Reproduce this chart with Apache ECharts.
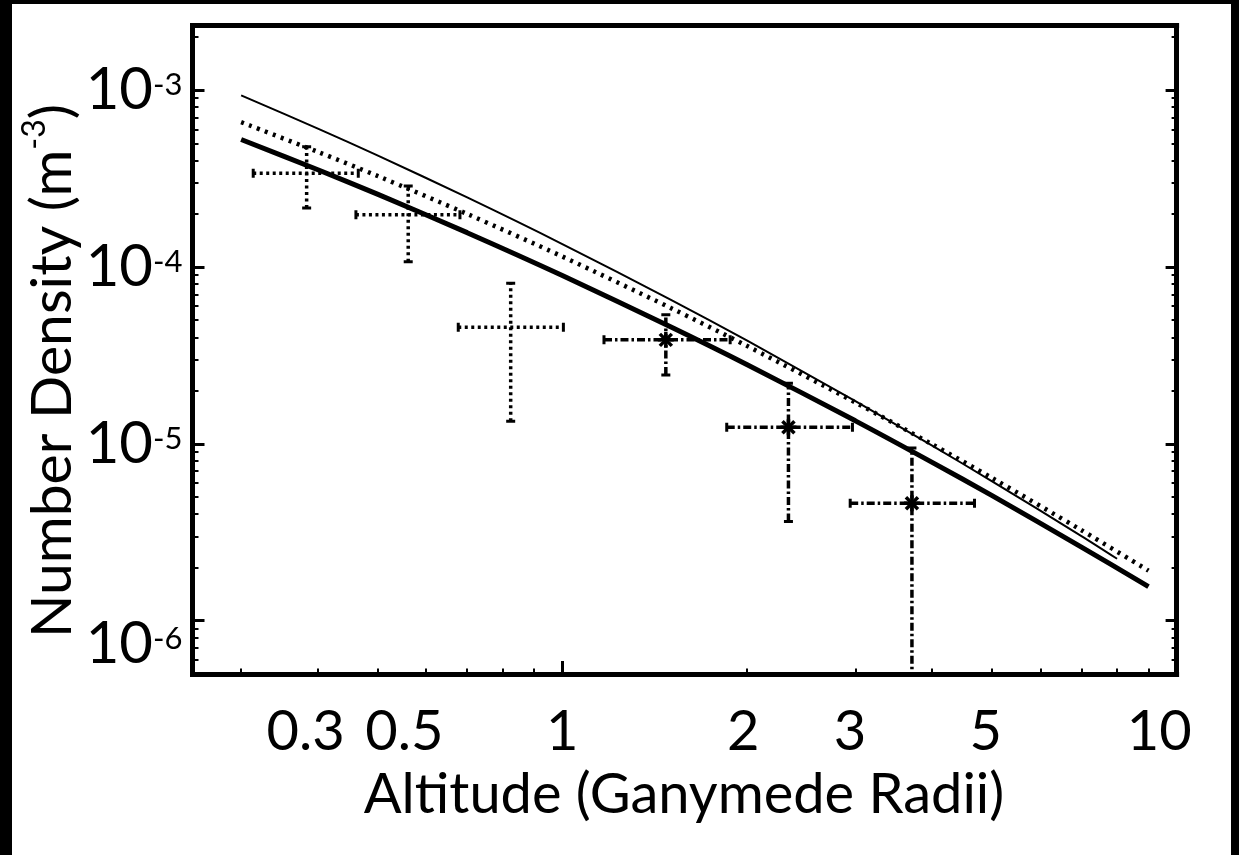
<!DOCTYPE html>
<html><head><meta charset="utf-8">
<script src="https://cdn.jsdelivr.net/npm/echarts@6/dist/echarts.min.js"></script>
<style>
html,body{margin:0;padding:0;background:#000;width:1239px;height:855px;overflow:hidden}
#c{position:absolute;left:12px;top:4px;width:1219px;height:851px;background:#fff}
</style></head><body><div id="c"></div>
<script>
// ---- axis text ----
const xTickLabels = ['0.3', '0.5', '1', '2', '3', '5', '10'];
const xLabelAt = [0.382, 0.553, 1.0, 1.97, 2.94, 4.89, 9.37];
const yTickExp = ['-3', '-4', '-5', '-6'];
const yLabelAt = [1.0e-3, 1.0e-4, 1.0e-5, 7.4e-7];
const xTitle = 'Altitude (Ganymede Radii)';
const yTitle = 'Number Density (m';

// ---- model curves ----
const thinX = [0.3, 0.4, 0.5, 0.7, 1, 1.5, 2, 3, 4, 5, 7, 8];
const thinY = [9.32e-4, 6.05e-4, 4.27e-4, 2.47e-4, 1.347e-4, 6.54e-5, 3.83e-5, 1.742e-5, 9.77e-6, 6.16e-6, 3.01e-6, 2.24e-6];
const dottedX = [0.3, 0.4, 0.5, 0.7, 1, 1.5, 2, 3, 4, 5, 7, 9];
const dottedY = [6.58e-4, 4.47e-4, 3.27e-4, 1.993e-4, 1.145e-4, 5.87e-5, 3.57e-5, 1.713e-5, 9.94e-6, 6.43e-6, 3.25e-6, 1.92e-6];
const thickX = [0.3, 0.4, 0.5, 0.7, 1, 1.5, 2, 3, 4, 5, 7, 9];
const thickY = [5.25e-4, 3.545e-4, 2.578e-4, 1.562e-4, 8.95e-5, 4.59e-5, 2.80e-5, 1.349e-5, 7.86e-6, 5.11e-6, 2.61e-6, 1.56e-6];

// ---- measurements (dotted error bars) ----
const dotX = [0.3835, 0.5612, 0.824];
const dotXLo = [0.3139, 0.4613, 0.677];
const dotXHi = [0.4654, 0.6813, 1.004];
const dotY = [3.38e-4, 1.97e-4, 4.56e-5];
const dotYLo = [2.15e-4, 1.07e-4, 1.34e-5];
const dotYHi = [4.78e-4, 2.87e-4, 8.09e-5];

// ---- measurements (dash-dot error bars, asterisk markers) ----
const dashX = [1.474, 2.334, 3.708];
const dashXLo = [1.169, 1.852, 2.942];
const dashXHi = [1.876, 2.967, 4.688];
const dashY = [3.87e-5, 1.24e-5, 4.62e-6];
const dashYLo = [2.45e-5, 3.64e-6, 3.0e-7];
const dashYHi = [5.36e-5, 2.20e-5, 9.46e-6];

const FONT = 'Lato';
const L = Math.log10;
const X_MIN = 0.25, X_MAX = 10, Y_MIN = 5.0e-7, Y_MAX = 2.31e-3;

const minorX = [], minorY = [];
[-1, 0].forEach(d => { for (let m = 2; m <= 9; m++) { const v = m * Math.pow(10, d); if (v > X_MIN && v < X_MAX) minorX.push(L(v)); } });
[-7, -6, -5, -4, -3].forEach(d => { for (let m = 2; m <= 9; m++) { const v = m * Math.pow(10, d); if (v > Y_MIN * 1.01 && v < Y_MAX) minorY.push(L(v)); } });
const majorX = [0, 1];
const majorY = [-6, -5, -4, -3];

function nearestIdx(arr, v) {
  let bi = 0, bd = Infinity;
  arr.forEach((a, i) => { const d = Math.abs(L(a) - v); if (d < bd) { bd = d; bi = i; } });
  return bi;
}

const lineBlack = w => ({ color: '#000', width: w, cap: 'square' });
const baseX = { type: 'value', min: L(X_MIN), max: L(X_MAX), gridIndex: 0, splitLine: { show: false },
  axisLabel: { show: false }, axisTick: { show: false }, axisLine: { show: false, onZero: false } };
const baseY = { type: 'value', min: L(Y_MIN), max: L(Y_MAX), gridIndex: 0, splitLine: { show: false },
  axisLabel: { show: false }, axisTick: { show: false }, axisLine: { show: false, onZero: false } };

function curve(xs, ys, width, type) {
  return { type: 'line', xAxisIndex: 0, yAxisIndex: 0, symbol: 'none', smooth: 0.3,
    data: xs.map((x, i) => [L(x), L(ys[i])]),
    lineStyle: { color: '#000', width: width, type: type }, z: 3 };
}

function bars(xs, xlo, xhi, ys, ylo, yhi, dash, marker) {
  return {
    type: 'custom', xAxisIndex: 0, yAxisIndex: 0, clip: true, z: 4,
    data: xs.map((x, i) => [L(x), L(ys[i]), L(xlo[i]), L(xhi[i]), L(ylo[i]), L(yhi[i])]),
    encode: { x: [0, 2, 3], y: [1, 4, 5] },
    renderItem: function (params, api) {
      const c = api.coord([api.value(0), api.value(1)]);
      const l = api.coord([api.value(2), api.value(1)]);
      const r = api.coord([api.value(3), api.value(1)]);
      const b = api.coord([api.value(0), api.value(4)]);
      const t = api.coord([api.value(0), api.value(5)]);
      const st = { stroke: '#000', lineWidth: 3.5, lineDash: dash, fill: null };
      const cap = { stroke: '#000', lineWidth: 3, fill: null };
      const h = 4.5;
      const ch = [
        { type: 'line', shape: { x1: l[0], y1: l[1], x2: r[0], y2: r[1] }, style: st },
        { type: 'line', shape: { x1: b[0], y1: b[1], x2: t[0], y2: t[1] }, style: st },
        { type: 'line', shape: { x1: l[0], y1: l[1] - h, x2: l[0], y2: l[1] + h }, style: cap },
        { type: 'line', shape: { x1: r[0], y1: r[1] - h, x2: r[0], y2: r[1] + h }, style: cap },
        { type: 'line', shape: { x1: b[0] - h, y1: b[1], x2: b[0] + h, y2: b[1] }, style: cap },
        { type: 'line', shape: { x1: t[0] - h, y1: t[1], x2: t[0] + h, y2: t[1] }, style: cap }
      ];
      if (marker) {
        const m = 8, d = 6;
        const ms = { stroke: '#000', lineWidth: 3.5, fill: null };
        ch.push({ type: 'line', shape: { x1: c[0], y1: c[1] - m, x2: c[0], y2: c[1] + m }, style: ms });
        ch.push({ type: 'line', shape: { x1: c[0] - m, y1: c[1], x2: c[0] + m, y2: c[1] }, style: ms });
        ch.push({ type: 'line', shape: { x1: c[0] - d, y1: c[1] - d, x2: c[0] + d, y2: c[1] + d }, style: ms });
        ch.push({ type: 'line', shape: { x1: c[0] - d, y1: c[1] + d, x2: c[0] + d, y2: c[1] - d }, style: ms });
      }
      return { type: 'group', children: ch };
    }
  };
}

const chart = echarts.init(document.getElementById('c'), null, { renderer: 'canvas' });
chart.setOption({
  animation: false,
  backgroundColor: '#fff',
  grid: { left: 180.5, top: 21.7, right: 54.4, bottom: 181, containLabel: false },
  xAxis: [
    Object.assign({}, baseX, { position: 'bottom',
      axisLine: { show: true, onZero: false, lineStyle: lineBlack(5) },
      axisTick: { show: true, inside: true, length: 5.5, customValues: minorX, lineStyle: { color: '#000', width: 2 } } }),
    Object.assign({}, baseX, { position: 'bottom',
      axisTick: { show: true, inside: true, length: 13, customValues: majorX, lineStyle: { color: '#000', width: 3 } } }),
    Object.assign({}, baseX, { position: 'bottom',
      axisLabel: { show: true, customValues: xLabelAt.map(L), margin: 30, color: '#000', fontFamily: FONT, fontSize: 56, lineHeight: 56,
        formatter: v => xTickLabels[nearestIdx(xLabelAt, v)] } }),
    Object.assign({}, baseX, { position: 'top',
      axisLine: { show: true, onZero: false, lineStyle: lineBlack(5) } })
  ],
  yAxis: [
    Object.assign({}, baseY, { position: 'left',
      axisLine: { show: true, onZero: false, lineStyle: lineBlack(5) },
      axisTick: { show: true, inside: true, length: 6, customValues: minorY, lineStyle: { color: '#000', width: 2 } } }),
    Object.assign({}, baseY, { position: 'left',
      axisTick: { show: true, inside: true, length: 12, customValues: majorY, lineStyle: { color: '#000', width: 3 } } }),
    Object.assign({}, baseY, { position: 'left',
      axisLabel: { show: true, customValues: yLabelAt.map(L), margin: 10, color: '#000',
        formatter: v => '{b|10}{s|' + yTickExp[nearestIdx(yLabelAt, v)] + '}',
        rich: {
          b: { fontFamily: FONT, fontSize: 58, lineHeight: 60, color: '#000', verticalAlign: 'middle' },
          s: { fontFamily: FONT, fontSize: 31, lineHeight: 31, color: '#000', verticalAlign: 'middle', padding: [0, 0, 10, 0] }
        } } }),
    Object.assign({}, baseY, { position: 'right',
      axisLine: { show: true, onZero: false, lineStyle: lineBlack(5) },
      axisTick: { show: true, inside: true, length: 5, customValues: minorY, lineStyle: { color: '#000', width: 2 } } }),
    Object.assign({}, baseY, { position: 'right',
      axisTick: { show: true, inside: true, length: 11, customValues: majorY, lineStyle: { color: '#000', width: 3 } } })
  ],
  graphic: [
    { type: 'text', x: 672, y: 791, z: 10,
      style: { text: xTitle, fontFamily: FONT, fontSize: 56, fill: '#000', align: 'center', verticalAlign: 'middle' } },
    { type: 'text', x: 38, y: 367, rotation: Math.PI / 2, z: 10,
      style: { text: '{a|' + yTitle + '}{s|-3}{a|)}', align: 'center', verticalAlign: 'middle', fill: '#000',
        rich: {
          a: { fontFamily: FONT, fontSize: 57, lineHeight: 62, fill: '#000', verticalAlign: 'bottom' },
          s: { fontFamily: FONT, fontSize: 32, lineHeight: 32, fill: '#000', verticalAlign: 'top' }
        } } }
  ],
  series: [
    curve(thinX, thinY, 2, 'solid'),
    curve(dottedX, dottedY, 4.5, [3, 5.5]),
    curve(thickX, thickY, 5, 'solid'),
    bars(dotX, dotXLo, dotXHi, dotY, dotYLo, dotYHi, [3, 3.5], false),
    bars(dashX, dashXLo, dashXHi, dashY, dashYLo, dashYHi, [8, 3, 2.5, 3], true)
  ]
});
</script></body></html>
